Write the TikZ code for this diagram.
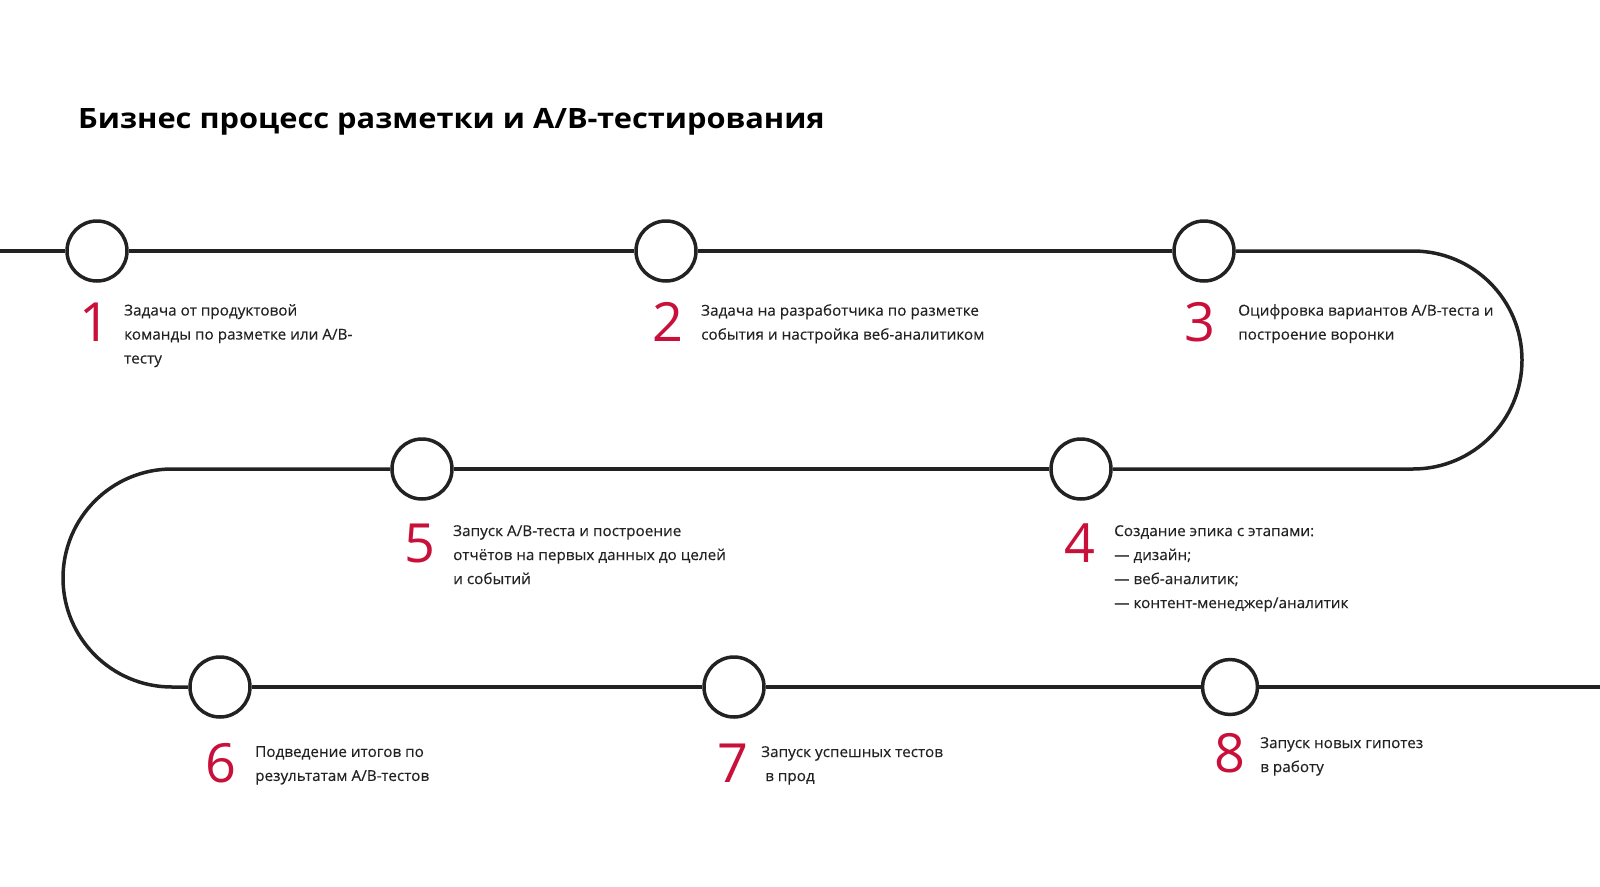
\documentclass[tikz,border=0pt]{standalone}
\usepackage{fontspec}
\setmainfont{Open Sans}
\newfontfamily\titlefont[FakeStretch=1.1]{Open Sans}
\newfontfamily\descfont[FakeStretch=1.02,FakeBold=0.3]{Open Sans}
\definecolor{crimson}{RGB}{200,16,58}
\definecolor{ink}{RGB}{34,34,34}
\begin{document}
\begin{tikzpicture}[x=1pt,y=-1pt,
	track/.style={draw=ink,line width=3.5pt},
	station/.style={circle,draw=ink,line width=3.5pt,fill=white,minimum size=60pt,inner sep=0pt},
	num/.style={text=crimson,font=\fontsize{54}{54}\selectfont,inner sep=0pt},
	desc/.style={anchor=north west,align=left,text=ink,font=\descfont\fontsize{15}{24}\selectfont,inner sep=0pt}]
	\useasboundingbox (0,0) rectangle (1600,886);
	\node (title) at (78,122) [anchor=west,inner sep=0pt,font=\titlefont\bfseries\fontsize{28}{30}\selectfont] {Бизнес процесс разметки и А/В-тестирования};
	\coordinate (in) at (0,251);
	\coordinate (out) at (1600,687);
	\coordinate (bendR) at (1413,251);
	\coordinate (bendL) at (172,469);
	\path node (c1) at (97,251) [station] {}
		  node (c2) at (666,251) [station] {}
		  node (c3) at (1204,251) [station] {}
		  node (c4) at (1081,469) [station] {}
		  node (c5) at (422,469) [station] {}
		  node (c6) at (220,687) [station] {}
		  node (c7) at (734,687) [station] {}
		  node (c8) at (1230,687) [station,minimum size=55pt] {};
	\draw [track] (in) -- (c1);
	\draw [track] (c1) -- (c2);
	\draw [track] (c2) -- (c3);
	\draw [track] (c3) -- (bendR) arc [start angle=-90,end angle=90,radius=109] -- (c4);
	\draw [track] (c4) -- (c5);
	\draw [track] (c5) -- (bendL) arc [start angle=270,end angle=90,radius=109] -- (c6);
	\draw [track] (c6) -- (c7);
	\draw [track] (c7) -- (c8);
	\draw [track] (c8) -- (out);
	\path node (n1) at (95,322) [num] {1}
		  node (n2) at (668,322) [num] {2}
		  node (n3) at (1200,322) [num] {3}
		  node (n4) at (1080,543) [num] {4}
		  node (n5) at (420,543) [num] {5}
		  node (n6) at (221,763) [num] {6}
		  node (n7) at (733,763) [num] {7}
		  node (n8) at (1230,753) [num] {8};
	\path node (t1) at (124,304) [desc] {Задача от продуктовой\\команды по разметке или А/В-\\тесту}
		  node (t2) at (701,304) [desc] {Задача на разработчика по разметке\\события и настройка веб-аналитиком}
		  node (t3) at (1238,304) [desc] {Оцифровка вариантов А/В-теста и\\построение воронки}
		  node (t4) at (1114,525) [desc] {Создание эпика с этапами:\\— дизайн;\\— веб-аналитик;\\— контент-менеджер/аналитик}
		  node (t5) at (453,525) [desc] {Запуск А/В-теста и построение\\отчётов на первых данных до целей\\и событий}
		  node (t6) at (255,746) [desc] {Подведение итогов по\\результатам А/В-тестов}
		  node (t7) at (761,746) [desc] {Запуск успешных тестов\\\hspace*{4pt}в прод}
		  node (t8) at (1260,737) [desc] {Запуск новых гипотез\\в работу};
\end{tikzpicture}
\end{document}
